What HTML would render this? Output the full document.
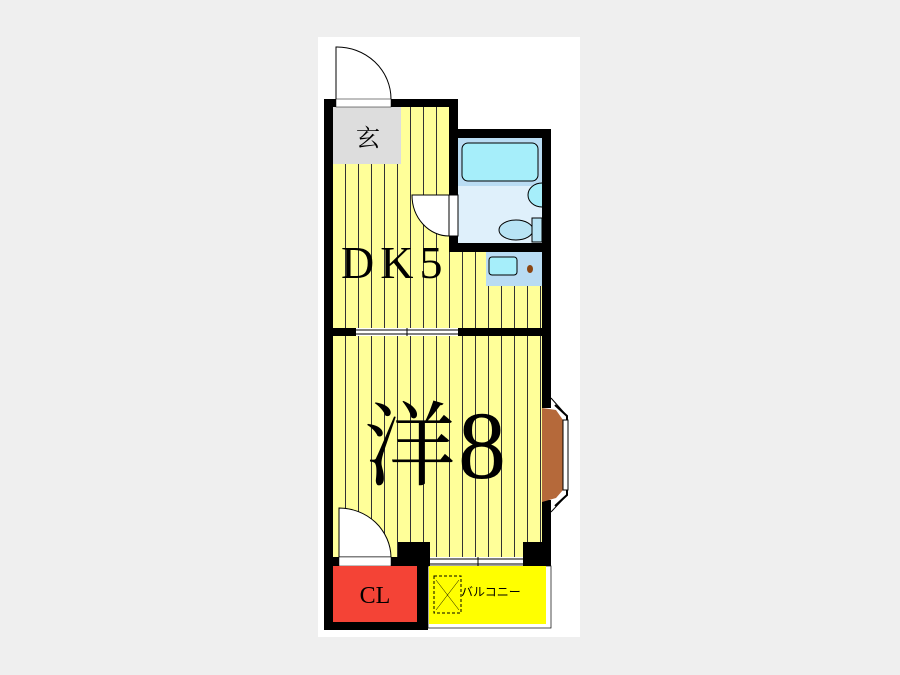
<!DOCTYPE html><html><head><meta charset="utf-8"><style>body{margin:0;background:#efefef}</style></head><body>
<svg width="900" height="675" xmlns="http://www.w3.org/2000/svg" style="display:block">
<defs><pattern id="st" x="333" y="0" width="13" height="10" patternUnits="userSpaceOnUse"><rect width="13" height="10" fill="#ffff99"/><rect x="12" width="1" height="10" fill="#333"/></pattern></defs>
<rect x="318" y="37" width="262" height="600" fill="#fff"/>
<path d="M336,99 V47 A54,52 0 0 1 391,99" fill="#fff" stroke="#000" stroke-width="1"/>
<rect x="333" y="107" width="209" height="221" fill="url(#st)"/>
<rect x="458" y="99" width="100" height="30" fill="#fff"/>
<rect x="333" y="336" width="209" height="222" fill="url(#st)"/>
<rect x="333" y="107" width="68" height="57" fill="#ddd"/>
<text x="368" y="146" font-family="Noto Serif CJK SC,serif" font-size="24" text-anchor="middle">玄</text>
<rect x="458" y="138" width="84" height="105" fill="#dff0fb"/>
<rect x="458" y="138" width="84" height="48" fill="#b9dcf3"/>
<rect x="462" y="143" width="76" height="38" rx="6" fill="#a6eefa" stroke="#000"/>
<path d="M542,183 A14,12 0 0 0 542,207" fill="#a6eefa" stroke="#000"/>
<ellipse cx="516" cy="230" rx="17" ry="10" fill="#b8e4f5" stroke="#000"/>
<rect x="532" y="218" width="10" height="24" fill="#b8e4f5" stroke="#000"/>
<path d="M449,195 H412 A37,41 0 0 0 449,236 Z" fill="#fff" stroke="#000"/>
<rect x="449" y="195" width="9" height="41" fill="#fff" stroke="#000"/>
<rect x="486" y="252" width="56" height="34" fill="#b9dcf3"/>
<rect x="489" y="257" width="28" height="18" rx="3" fill="#a6eefa" stroke="#000"/>
<ellipse cx="530" cy="269" rx="3" ry="4" fill="#8b4513"/>
<g fill="#000">
<rect x="324" y="99" width="134" height="8"/>
<rect x="324" y="99" width="9" height="531"/>
<rect x="449" y="99" width="9" height="96"/>
<rect x="449" y="129" width="102" height="9"/>
<rect x="542" y="129" width="9" height="279"/>
<rect x="542" y="500" width="9" height="66"/>
<rect x="449" y="236" width="9" height="16"/>
<rect x="449" y="243" width="93" height="9"/>
<rect x="324" y="328" width="227" height="8"/>
<rect x="324" y="557" width="106" height="9"/>
<rect x="398" y="542" width="32" height="24"/>
<rect x="523" y="542" width="28" height="24"/>
<rect x="324" y="622" width="104" height="8"/>
<rect x="417" y="557" width="11" height="73"/>
</g>
<rect x="336" y="99" width="55" height="8" fill="#fff" stroke="#000" stroke-width="0.5"/>
<rect x="356" y="328" width="102" height="8" fill="#fff"/>
<path d="M356,330 H458 M356,334 H458 M407,328 V336" stroke="#000" stroke-width="1"/>
<rect x="430" y="557" width="93" height="9" fill="#fff"/>
<path d="M430,559 H523 M430,564 H523 M478,557 V566" stroke="#000"/>
<path d="M339,557 V508 A52,50 0 0 1 391,557 Z" fill="#fff" stroke="#000"/>
<rect x="339" y="557" width="52" height="9" fill="#fff" stroke="#000" stroke-width="0.5"/>
<rect x="333" y="566" width="84" height="56" fill="#f44336"/>
<text x="375" y="603" font-family="Liberation Serif,serif" font-size="24" text-anchor="middle">CL</text>
<rect x="428" y="566" width="123" height="62" fill="#fff" stroke="#000" stroke-width="0.7"/>
<rect x="429" y="566" width="117" height="58" fill="#ffff00"/>
<rect x="434" y="576" width="27" height="37" fill="none" stroke="#000" stroke-dasharray="3,2"/>
<path d="M436,580 L459,610 M459,580 L436,610" stroke="#000" stroke-width="0.5"/>
<text x="461" y="596" font-family="Noto Sans CJK JP,sans-serif" font-size="12">バルコニー</text>
<path d="M551,398 L567,416 V495 L551,512" fill="#fff" stroke="#000"/>
<path d="M555,405 L567,416 V495 L555,506" fill="none" stroke="#000" stroke-width="2"/>
<polygon points="542,408 556,410 563,420 563,490 556,498 542,502" fill="#b5693a"/>
<rect x="563" y="420" width="5" height="70" fill="#fff" stroke="#000"/>
<text x="341" y="278" font-family="Liberation Serif,serif" font-size="46" letter-spacing="6">DK5</text>
<text x="364" y="478" font-family="Noto Serif CJK JP,serif" font-size="92">洋</text>
<text x="458" y="478" font-family="Liberation Serif,serif" font-size="96">8</text>
</svg></body></html>
